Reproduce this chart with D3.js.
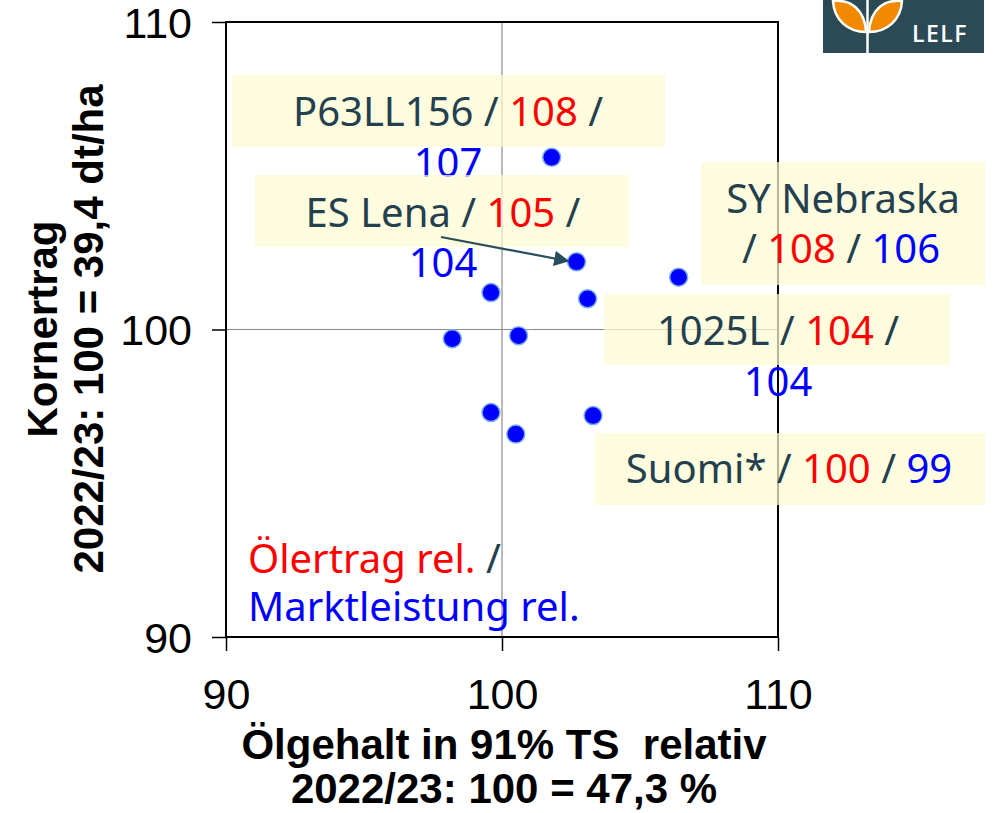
<html>
<head>
<meta charset="utf-8">
<script src="https://d3js.org/d3.v7.min.js"></script>
<style>
body { margin: 0; background: #fff; }
.lbl { font-family: "Noto Sans", "Open Sans", sans-serif; font-size: 40px; }
.tick-lbl { font-family: "Liberation Sans", Arial, sans-serif; font-size: 43px; }
.ax-title { font-family: "Liberation Sans", Arial, sans-serif; font-size: 42px; font-weight: bold; white-space: pre; }
</style>
</head>
<body>
<div id="chart"></div>
<script>
// Ölgehalt relativ (x) und Kornertrag relativ (y) je Sorte
var oilContent = [101.8, 102.7, 106.4, 99.6, 103.1, 98.2, 100.6, 99.6, 103.3, 100.5];
var grainYield = [105.6, 102.2, 101.7, 101.2, 101.0, 99.7, 99.8, 97.3, 97.2, 96.6];

// beschriftete Sorten
var labelNames = ["P63LL156", "ES Lena", "SY Nebraska", "1025L", "Suomi*"];
var oilYieldRel = [108, 105, 108, 104, 100];
var marketRel = [107, 104, 106, 104, 99];

var xTicks = [90, 100, 110];
var yTicks = [90, 100, 110];

var W = 994, H = 813;
var plot = {left: 226, right: 778, top: 22, bottom: 637};
var dark = "#243f4e";

var x = d3.scaleLinear().domain([90, 110]).range([plot.left, plot.right]);
var y = d3.scaleLinear().domain([90, 110]).range([plot.bottom, plot.top]);

var svg = d3.select("#chart").append("svg")
    .attr("width", W).attr("height", H);

// gridlines at 100
svg.append("line").attr("x1", x(100)).attr("x2", x(100))
    .attr("y1", y(110)).attr("y2", y(90)).attr("stroke", "#8a8a8a").attr("stroke-width", 1.2);
svg.append("line").attr("x1", x(90)).attr("x2", x(110))
    .attr("y1", y(100)).attr("y2", y(100)).attr("stroke", "#8a8a8a").attr("stroke-width", 1.2);

// frame
svg.append("rect").attr("x", plot.left).attr("y", plot.top)
    .attr("width", plot.right - plot.left).attr("height", plot.bottom - plot.top)
    .attr("fill", "none").attr("stroke", "#000").attr("stroke-width", 2);

// axes
var xAxis = svg.append("g").attr("transform", "translate(0," + plot.bottom + ")")
    .call(d3.axisBottom(x).tickValues(xTicks).tickSize(14).tickPadding(27));
var yAxis = svg.append("g").attr("transform", "translate(" + plot.left + ",0)")
    .call(d3.axisLeft(y).tickValues(yTicks).tickSize(14).tickPadding(20));
[xAxis, yAxis].forEach(function(a) {
  a.select(".domain").remove();
  a.selectAll(".tick line").attr("stroke", "#000").attr("stroke-width", 1.5);
  a.selectAll(".tick text").attr("class", "tick-lbl").attr("fill", "#000");
});
xAxis.selectAll(".tick text").attr("dy", "0.71em");
yAxis.selectAll(".tick text").attr("dy", "0.36em");

// axis titles
var xt = svg.append("text").attr("class", "ax-title").attr("text-anchor", "middle");
xt.append("tspan").attr("x", 504).attr("y", 759).text("Ölgehalt in 91% TS  relativ");
xt.append("tspan").attr("x", 504).attr("y", 803).text("2022/23: 100 = 47,3 %");

var yt = svg.append("text").attr("class", "ax-title").attr("text-anchor", "middle")
    .attr("transform", "translate(0,329) rotate(-90)");
yt.append("tspan").attr("x", 0).attr("y", 57).text("Kornertrag");
yt.append("tspan").attr("x", 0).attr("y", 103).text("2022/23: 100 = 39,4 dt/ha");

// points
var pts = oilContent.map(function(v, i) { return {x: v, y: grainYield[i]}; });
svg.selectAll("circle.pt").data(pts).enter().append("circle")
    .attr("class", "pt")
    .attr("cx", function(d) { return x(d.x); })
    .attr("cy", function(d) { return y(d.y); })
    .attr("r", 9)
    .attr("fill", "#0000ff")
    .attr("stroke", "#7fb0e0").attr("stroke-width", 1.5);

// label boxes (pixel layout) and text lines
var boxes = [
  {x0: 232, y0: 75, x1: 665, y1: 147, lines: [{cx: 448, y: 126, parts: "nrb"}, {cx: 448, y: 177, parts: "m"}]},
  {x0: 255, y0: 175, x1: 629, y1: 247, lines: [{cx: 443, y: 227, parts: "nrb"}, {cx: 443, y: 277, parts: "m"}]},
  {x0: 701, y0: 162, x1: 985, y1: 285, lines: [{cx: 843, y: 213, parts: "n"}, {cx: 841, y: 263, parts: "srm"}]},
  {x0: 604, y0: 294, x1: 950, y1: 365, lines: [{cx: 778, y: 345, parts: "nrb"}, {cx: 778, y: 396, parts: "m"}]},
  {x0: 595, y0: 433, x1: 985, y1: 505, lines: [{cx: 789, y: 483, parts: "nrm"}]}
];

boxes.forEach(function(b, i) {
  svg.append("rect").attr("x", b.x0).attr("y", b.y0)
      .attr("width", b.x1 - b.x0).attr("height", b.y1 - b.y0)
      .attr("fill", "#fdfbd2").attr("opacity", 0.72);
  b.lines.forEach(function(ln) {
    var t = svg.append("text").attr("class", "lbl").attr("text-anchor", "middle")
        .attr("x", ln.cx).attr("y", ln.y).attr("fill", dark);
    ln.parts.split("").forEach(function(p) {
      if (p === "n") t.append("tspan").text(labelNames[i] + (ln.parts === "n" ? "" : " / "));
      if (p === "s") t.append("tspan").text("/ ");
      if (p === "r") {
        t.append("tspan").attr("fill", "#ff0000").text(oilYieldRel[i]);
        t.append("tspan").text(" / ");
      }
      if (p === "m") t.append("tspan").attr("fill", "#0000ff").text(marketRel[i]);
    });
    if (ln.parts === "nrb") {
      var last = t.selectAll("tspan").nodes().pop();
      last.textContent = " /";
    }
  });
});

// arrow ES Lena
svg.append("defs").append("marker").attr("id", "ah")
    .attr("viewBox", "0 0 10 10").attr("refX", 9).attr("refY", 5)
    .attr("markerWidth", 7).attr("markerHeight", 7).attr("orient", "auto")
    .append("path").attr("d", "M0,0 L10,5 L0,10 Z").attr("fill", "#2a4d5c");
svg.append("line").attr("x1", 441).attr("y1", 237).attr("x2", 568).attr("y2", 261)
    .attr("stroke", "#2a4d5c").attr("stroke-width", 2.2).attr("marker-end", "url(#ah)");

// legend (one text, two lines)
var lg = svg.append("text").attr("class", "lbl");
lg.append("tspan").attr("x", 248).attr("y", 573).attr("fill", "#ff0000").text("Ölertrag rel. ");
lg.append("tspan").attr("fill", dark).text("/");
lg.append("tspan").attr("x", 248).attr("y", 621).attr("fill", "#0000ff").text("Marktleistung rel.");

// logo
var logo = svg.append("g");
logo.append("rect").attr("x", 823).attr("y", 0).attr("width", 161).attr("height", 53).attr("fill", "#2b4a55");
logo.append("path").attr("d", "M866,32 C848,32 834,20 833,1 C851,-1 865,10 866,32 Z")
    .attr("fill", "#f18a00").attr("stroke", "#fff").attr("stroke-width", 2.5);
logo.append("path").attr("d", "M869,32 C887,32 901,20 902,1 C884,-1 870,10 869,32 Z")
    .attr("fill", "#f18a00").attr("stroke", "#fff").attr("stroke-width", 2.5);
logo.append("line").attr("x1", 867.5).attr("x2", 867.5).attr("y1", 0).attr("y2", 53)
    .attr("stroke", "#fff").attr("stroke-width", 2.5);
logo.append("text").attr("x", 912).attr("y", 42).attr("fill", "#fff")
    .style("font-family", "'Open Sans', sans-serif").style("font-size", "23px").style("font-weight", 600)
    .style("letter-spacing", "1.5px").text("LELF");
</script>
</body>
</html>
